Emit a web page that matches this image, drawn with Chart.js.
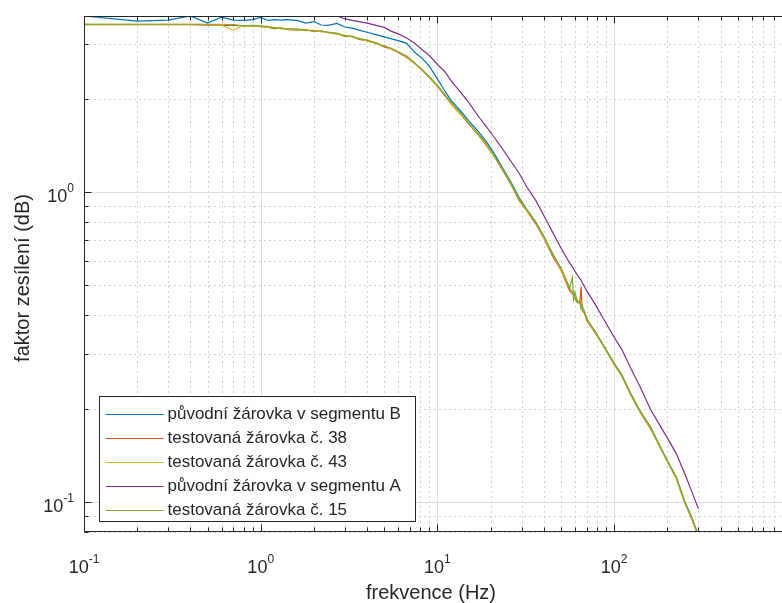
<!DOCTYPE html>
<html lang="cs">
<head>
<meta charset="utf-8">
<title>faktor zesílení</title>
<script src="https://cdn.jsdelivr.net/npm/chart.js@4.4.1/dist/chart.umd.min.js"></script>
<style>
  html, body { margin: 0; padding: 0; background: #fff; }
  #wrap { width: 782px; height: 603px; }
</style>
</head>
<body>
<div id="wrap"><canvas id="chart" width="782" height="603"></canvas></div>
<script>
'use strict';

// ************************* DATA **********************************
const freq = [0.1, 0.2, 0.3, 0.4, 0.5, 0.6, 0.7, 0.8, 0.9, 1.0,
  1.1, 1.2, 1.3, 1.4, 1.6, 1.8, 2.0, 2.2, 2.4, 2.7, 3.0, 3.3, 3.6, 4.0,
  4.5, 5.0, 5.5, 6.0, 6.7, 7.4, 8.2, 9.0, 10,
  11, 12, 13.5, 15, 17, 19, 21, 23.5, 26, 29,
  32, 36, 40, 45, 50, 56,
  58, 59, 60, 62, 64, 65, 66, 68, 70,
  78, 87, 100, 110, 125, 140, 160, 180, 200,
  225, 250, 275, 300];

const puvodniB = [3.70, 3.56, 3.59, 3.70, 3.51, 3.67, 3.59, 3.58, 3.60, 3.66,
  3.58, 3.60, 3.59, 3.60, 3.58, 3.51, 3.55, 3.46, 3.45, 3.50, 3.41, 3.38, 3.33, 3.28,
  3.22, 3.17, 3.12, 3.08, 3.02, 2.83, 2.70, 2.55, 2.32,
  2.12, 1.97, 1.83, 1.70, 1.57, 1.45, 1.33, 1.19, 1.08, 0.96,
  0.88, 0.80, 0.72, 0.63, 0.565, 0.49,
  0.475, 0.47, 0.455, 0.44, 0.44, 0.43, 0.425, 0.41, 0.39,
  0.355, 0.32, 0.28, 0.258, 0.222, 0.197, 0.175, 0.153, 0.136,
  0.12, 0.101, 0.089, 0.078];

const testovana38 = [3.47, 3.47, 3.47, 3.47, 3.46, 3.45, 3.45, 3.44, 3.44, 3.42,
  3.40, 3.37, 3.38, 3.35, 3.33, 3.34, 3.30, 3.31, 3.27, 3.25, 3.18, 3.18, 3.11, 3.08,
  3.03, 2.94, 2.89, 2.82, 2.72, 2.61, 2.47, 2.34, 2.19,
  2.05, 1.92, 1.79, 1.66, 1.53, 1.41, 1.30, 1.17, 1.06, 0.94,
  0.87, 0.79, 0.71, 0.62, 0.56, 0.48,
  0.47, 0.465, 0.455, 0.445, 0.44, 0.495, 0.415, 0.405, 0.385,
  0.352, 0.318, 0.278, 0.256, 0.22, 0.195, 0.173, 0.152, 0.135,
  0.119, 0.1, 0.088, 0.077];

const testovana43 = [3.48, 3.48, 3.48, 3.48, 3.47, 3.46, 3.33, 3.45, 3.43, 3.44,
  3.40, 3.40, 3.36, 3.37, 3.34, 3.32, 3.33, 3.29, 3.28, 3.23, 3.21, 3.16, 3.14, 3.07,
  3.01, 2.97, 2.88, 2.84, 2.73, 2.60, 2.49, 2.35, 2.19,
  2.07, 1.92, 1.78, 1.67, 1.53, 1.42, 1.30, 1.18, 1.06, 0.95,
  0.87, 0.80, 0.71, 0.63, 0.56, 0.49,
  0.47, 0.468, 0.46, 0.447, 0.435, 0.428, 0.422, 0.408, 0.388,
  0.353, 0.318, 0.279, 0.257, 0.221, 0.196, 0.174, 0.152, 0.135,
  0.119, 0.1, 0.088, 0.077];

const puvodniA = [3.95, 3.93, 3.94, 3.92, 3.93, 3.91, 3.92, 3.90, 3.91, 3.89,
  3.88, 3.85, 3.72, 3.84, 3.82, 3.80, 3.79, 3.77, 3.76, 3.70, 3.62, 3.58, 3.55, 3.51,
  3.45, 3.40, 3.30, 3.24, 3.14, 3.03, 2.88, 2.76, 2.58,
  2.45, 2.28, 2.10, 1.95, 1.76, 1.62, 1.50, 1.37, 1.26, 1.15,
  1.04, 0.94, 0.84, 0.74, 0.66, 0.59,
  0.575, 0.565, 0.555, 0.54, 0.525, 0.52, 0.51, 0.495, 0.48,
  0.435, 0.39, 0.34, 0.312, 0.268, 0.236, 0.20, 0.178, 0.161,
  0.143, 0.124, 0.108, 0.095];

const testovana15 = [3.48, 3.48, 3.48, 3.48, 3.48, 3.48, 3.47, 3.44, 3.45, 3.44,
  3.42, 3.38, 3.39, 3.36, 3.36, 3.33, 3.31, 3.31, 3.28, 3.25, 3.19, 3.18, 3.12, 3.10,
  3.02, 2.96, 2.91, 2.83, 2.75, 2.62, 2.48, 2.36, 2.21,
  2.06, 1.94, 1.80, 1.67, 1.54, 1.43, 1.31, 1.18, 1.07, 0.95,
  0.88, 0.80, 0.72, 0.63, 0.57, 0.49,
  0.53, 0.45, 0.475, 0.44, 0.445, 0.42, 0.43, 0.41, 0.39,
  0.355, 0.32, 0.28, 0.258, 0.222, 0.197, 0.175, 0.153, 0.136,
  0.12, 0.101, 0.089, 0.078];

const seriesLabels = ['původní žárovka v segmentu B', 'testovaná žárovka č. 38',
  'testovaná žárovka č. 43', 'původní žárovka v segmentu A', 'testovaná žárovka č. 15'];
const seriesValues = [puvodniB, testovana38, testovana43, puvodniA, testovana15];
const seriesColors = ['#0072BD', '#D95319', '#EDB120', '#7E2F8E', '#77AC30'];

const xTickValues = [0.1, 1, 10, 100];
const xTickExps = ['-1', '0', '1', '2'];
const yTickValues = [0.1, 1];
const yTickExps = ['-1', '0'];

const X_MIN = 0.1, X_MAX = 891;
const Y_MIN = 0.08, Y_MAX = 3.7;

// ************************* STYLE **********************************
const FONT = '"Liberation Sans", Arial, Helvetica, sans-serif';
const AXIS_COLOR = '#262626';
const TICK_SIZE = 18;
const EXP_SIZE = 12;

// ************************ HELPER FUNCTIONS ********************************
const minorValues = (min, max) => {
  const out = [];
  for (let e = -3; e <= 4; e++) {
    for (let k = 1; k <= 9; k++) {
      const v = k * Math.pow(10, e);
      if (v >= min * 0.9999 && v <= max * 1.0001) out.push(v);
    }
  }
  return out;
};
const isDecade = v => Math.abs(Math.log10(v) - Math.round(Math.log10(v))) < 1e-9;

function drawPower(ctx, exp, x, baseline, align) {
  ctx.font = `${TICK_SIZE}px ${FONT}`;
  const wBase = ctx.measureText('10').width;
  ctx.font = `${EXP_SIZE}px ${FONT}`;
  const wExp = ctx.measureText(exp).width;
  const total = wBase + wExp;
  const left = align === 'right' ? x - total : x - total / 2;
  ctx.textAlign = 'left';
  ctx.textBaseline = 'alphabetic';
  ctx.fillStyle = AXIS_COLOR;
  ctx.font = `${TICK_SIZE}px ${FONT}`;
  ctx.fillText('10', left, baseline);
  ctx.font = `${EXP_SIZE}px ${FONT}`;
  ctx.fillText(exp, left + wBase, baseline - 10);
}

// **************** PLUGIN: MATLAB STYLE AXES *************************
const matlabAxes = {
  id: 'matlabAxes',
  beforeDatasetsDraw(chart) {
    const {ctx, chartArea: a, scales: {x, y}} = chart;
    ctx.save();
    ctx.lineWidth = 1;
    // minor grid, dotted
    ctx.strokeStyle = '#d2d2d2';
    ctx.setLineDash([2, 3]);
    ctx.beginPath();
    for (const v of minorValues(X_MIN, X_MAX)) {
      if (isDecade(v)) continue;
      const px = Math.round(x.getPixelForValue(v)) + 0.5;
      ctx.moveTo(px, a.top); ctx.lineTo(px, a.bottom);
    }
    for (const v of minorValues(Y_MIN, Y_MAX)) {
      if (isDecade(v)) continue;
      const py = Math.round(y.getPixelForValue(v)) + 0.5;
      ctx.moveTo(a.left, py); ctx.lineTo(a.right, py);
    }
    ctx.stroke();
    // major grid, solid
    ctx.setLineDash([]);
    ctx.strokeStyle = '#dedede';
    ctx.beginPath();
    for (const v of xTickValues) {
      const px = Math.round(x.getPixelForValue(v)) + 0.5;
      ctx.moveTo(px, a.top); ctx.lineTo(px, a.bottom);
    }
    for (const v of yTickValues) {
      const py = Math.round(y.getPixelForValue(v)) + 0.5;
      ctx.moveTo(a.left, py); ctx.lineTo(a.right, py);
    }
    ctx.stroke();
    ctx.restore();
  },
  afterDatasetsDraw(chart) {
    const {ctx, chartArea: a, scales: {x, y}} = chart;
    ctx.save();
    ctx.strokeStyle = AXIS_COLOR;
    ctx.lineWidth = 1;
    const L = Math.round(a.left) + 0.5, T = Math.round(a.top) + 0.5, B = Math.round(a.bottom) - 0.5;
    ctx.beginPath();
    ctx.moveTo(L, T); ctx.lineTo(a.right, T);
    ctx.moveTo(L, T); ctx.lineTo(L, B);
    ctx.moveTo(L, B); ctx.lineTo(a.right, B);
    // tick marks pointing inwards
    for (const v of minorValues(X_MIN, X_MAX)) {
      const px = Math.round(x.getPixelForValue(v)) + 0.5;
      const len = isDecade(v) ? 7 : 4;
      ctx.moveTo(px, B); ctx.lineTo(px, B - len);
      ctx.moveTo(px, T); ctx.lineTo(px, T + len);
    }
    for (const v of minorValues(Y_MIN, Y_MAX)) {
      const py = Math.round(y.getPixelForValue(v)) + 0.5;
      const len = isDecade(v) ? 7 : 4;
      ctx.moveTo(L, py); ctx.lineTo(L + len, py);
    }
    ctx.stroke();

    // tick labels
    xTickValues.forEach((v, i) => drawPower(ctx, xTickExps[i], x.getPixelForValue(v), a.bottom + 41, 'center'));
    yTickValues.forEach((v, i) => drawPower(ctx, yTickExps[i], a.left - 10, y.getPixelForValue(v) + 10, 'right'));

    // axis titles
    ctx.fillStyle = AXIS_COLOR;
    ctx.font = `20px ${FONT}`;
    ctx.textAlign = 'center';
    ctx.textBaseline = 'middle';
    ctx.fillText('frekvence (Hz)', (a.left + a.right) / 2 - 2, 593);
    ctx.translate(23, 278);
    ctx.rotate(-Math.PI / 2);
    ctx.fillText('faktor zesílení (dB)', 0, 0);
    ctx.restore();
  },
  afterDraw(chart) {
    // legend box inside the axes, lower left
    const {ctx, chartArea: a} = chart;
    const boxL = a.left + 15.5, boxR = a.left + 331.5;
    const boxB = a.bottom - 10.5, rowH = 24;
    const boxT = boxB - 125;
    ctx.save();
    ctx.fillStyle = '#ffffff';
    ctx.fillRect(boxL, boxT, boxR - boxL, boxB - boxT);
    ctx.strokeStyle = AXIS_COLOR;
    ctx.lineWidth = 1;
    ctx.strokeRect(boxL, boxT, boxR - boxL, boxB - boxT);
    ctx.font = `17px ${FONT}`;
    ctx.textAlign = 'left';
    ctx.textBaseline = 'middle';
    chart.data.datasets.forEach((ds, i) => {
      const ry = Math.round(boxT + 17 + i * rowH) + 0.5;
      ctx.strokeStyle = ds.borderColor;
      ctx.lineWidth = 1.2;
      ctx.beginPath();
      ctx.moveTo(boxL + 6, ry); ctx.lineTo(boxL + 64, ry);
      ctx.stroke();
      ctx.fillStyle = AXIS_COLOR;
      ctx.fillText(ds.label, boxL + 68, ry);
    });
    ctx.restore();
  }
};

// **************** BUILD CHART *************************
const datasets = seriesLabels.map((label, i) => ({
  label: label,
  data: freq.map((f, j) => ({x: f, y: seriesValues[i][j]})),
  borderColor: seriesColors[i],
  backgroundColor: seriesColors[i],
  borderWidth: 1.2,
  pointRadius: 0,
  tension: 0,
  fill: false,
  clip: 0,
  order: seriesLabels.length - i
}));

new Chart(document.getElementById('chart'), {
  type: 'line',
  data: {datasets: datasets},
  options: {
    responsive: false,
    animation: false,
    events: [],
    layout: {padding: {top: 16, right: 0, bottom: 0, left: 0}},
    plugins: {legend: {display: false}, tooltip: {enabled: false}},
    scales: {
      x: {
        type: 'logarithmic',
        min: X_MIN,
        max: X_MAX,
        grid: {display: false},
        border: {display: false},
        ticks: {display: false},
        afterFit: scale => { scale.height = 71; }
      },
      y: {
        type: 'logarithmic',
        min: Y_MIN,
        max: Y_MAX,
        grid: {display: false},
        border: {display: false},
        ticks: {display: false},
        afterFit: scale => { scale.width = 84; }
      }
    }
  },
  plugins: [matlabAxes]
});
</script>
</body>
</html>
